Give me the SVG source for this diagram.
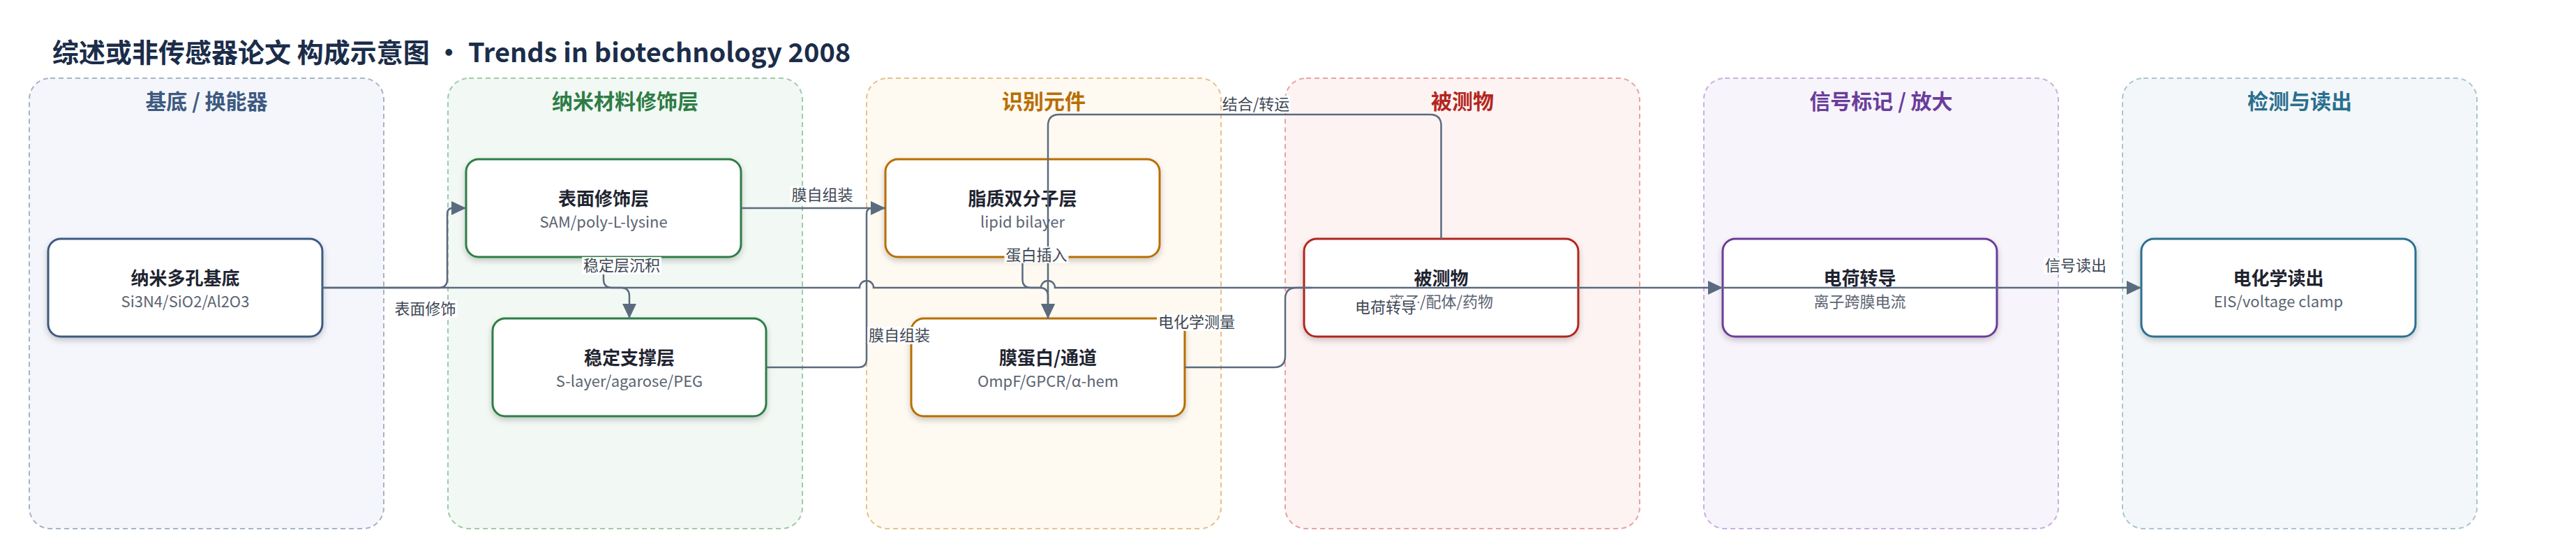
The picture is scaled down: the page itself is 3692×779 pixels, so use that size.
<svg xmlns="http://www.w3.org/2000/svg" width="3692" height="779" viewBox="0 0 3692 779">
<defs>
<filter id="sh" x="-10%" y="-20%" width="120%" height="150%">
<feDropShadow dx="0" dy="4" stdDeviation="4" flood-color="#000" flood-opacity="0.2"/>
</filter>
<marker id="ar" markerUnits="userSpaceOnUse" markerWidth="21" markerHeight="20" refX="21" refY="10" orient="auto">
<path d="M0,0 L21,10 L0,20 z" fill="#5b6b7f"/>
</marker>
<style>
text{font-family:"Noto Sans CJK SC","Noto Sans",sans-serif}
.grp{stroke-width:2;stroke-dasharray:7 5}
.gt{font-size:30px;font-weight:700;text-anchor:middle}
.node rect{fill:#fff;stroke-width:3;filter:url(#sh)}
.nt{font-size:26px;font-weight:700;fill:#1f2430;text-anchor:middle}
.ns{font-size:22px;fill:#5b6472;text-anchor:middle}
.edge{fill:none;stroke:#5b6b7f;stroke-width:2.5}
.lb rect{fill:#fff;fill-opacity:0.93}
.lb text{font-size:22px;fill:#3d4654;text-anchor:middle}
</style>
</defs>
<rect width="3692" height="779" fill="#fff"/>
<text x="75" y="89" font-size="38" font-weight="700" fill="#1b2d4a">综述或非传感器论文 构成示意图 • Trends in biotechnology 2008</text>

<g id="clusters">
<g id="c1"><rect class="grp" x="42" y="112" width="508" height="645" rx="30" fill="#f4f6fb" stroke="#a6b4c8"/><text class="gt" x="296" y="156" fill="#3d5a80">基底 / 换能器</text></g>
<g id="c2"><rect class="grp" x="642" y="112" width="508" height="645" rx="30" fill="#f2f8f4" stroke="#9fcaa9"/><text class="gt" x="896" y="156" fill="#2e7d46">纳米材料修饰层</text></g>
<g id="c3"><rect class="grp" x="1242" y="112" width="508" height="645" rx="30" fill="#fef9f1" stroke="#e6c28c"/><text class="gt" x="1496" y="156" fill="#b86e00">识别元件</text></g>
<g id="c4"><rect class="grp" x="1842" y="112" width="508" height="645" rx="30" fill="#fdf3f3" stroke="#e8a3a3"/><text class="gt" x="2096" y="156" fill="#b3261e">被测物</text></g>
<g id="c5"><rect class="grp" x="2442" y="112" width="508" height="645" rx="30" fill="#f7f4fb" stroke="#c8b0e0"/><text class="gt" x="2696" y="156" fill="#6a3d9a">信号标记 / 放大</text></g>
<g id="c6"><rect class="grp" x="3042" y="112" width="508" height="645" rx="30" fill="#f3f7f9" stroke="#a9c6d2"/><text class="gt" x="3296" y="156" fill="#2a6f8f">检测与读出</text></g>
</g>

<g id="nodes">
<g id="n-substrate" class="node"><rect x="69" y="342" width="393" height="140" rx="18" stroke="#3d5a80"/><text class="nt" x="265.5" y="408">纳米多孔基底</text><text class="ns" x="265.5" y="440">Si3N4/SiO2/Al2O3</text></g>
<g id="n-surface" class="node"><rect x="668" y="228" width="394" height="140" rx="18" stroke="#2e7d46"/><text class="nt" x="865" y="294">表面修饰层</text><text class="ns" x="865" y="326">SAM/poly-L-lysine</text></g>
<g id="n-support" class="node"><rect x="706" y="456" width="392" height="140" rx="18" stroke="#2e7d46"/><text class="nt" x="902" y="522">稳定支撑层</text><text class="ns" x="902" y="554">S-layer/agarose/PEG</text></g>
<g id="n-lipid" class="node"><rect x="1269" y="228" width="393" height="140" rx="18" stroke="#b86e00"/><text class="nt" x="1465.5" y="294">脂质双分子层</text><text class="ns" x="1465.5" y="326">lipid bilayer</text></g>
<g id="n-protein" class="node"><rect x="1306" y="456" width="392" height="140" rx="18" stroke="#b86e00"/><text class="nt" x="1502" y="522">膜蛋白/通道</text><text class="ns" x="1502" y="554">OmpF/GPCR/α-hem</text></g>
<g id="n-analyte" class="node"><rect x="1869" y="342" width="393" height="140" rx="18" stroke="#b3261e"/><text class="nt" x="2065.5" y="408">被测物</text><text class="ns" x="2065.5" y="440">离子/配体/药物</text></g>
<g id="n-charge" class="node"><rect x="2469" y="342" width="393" height="140" rx="18" stroke="#6a3d9a"/><text class="nt" x="2665.5" y="408">电荷转导</text><text class="ns" x="2665.5" y="440">离子跨膜电流</text></g>
<g id="n-readout" class="node"><rect x="3069" y="342" width="393" height="140" rx="18" stroke="#2a6f8f"/><text class="nt" x="3265.5" y="408">电化学读出</text><text class="ns" x="3265.5" y="440">EIS/voltage clamp</text></g>
</g>

<g id="connectors">
<path class="edge" d="M462,412 H1232 A10,10 0 0 1 1252,412 H1492 A10,10 0 0 1 1512,412 H2469" marker-end="url(#ar)"/>
<path class="edge" d="M2469,412 H3069" marker-end="url(#ar)"/>
<path class="edge" d="M462,412 H629 Q641,412 641,400 V306 Q641,298 649,298 H668" marker-end="url(#ar)"/>
<path class="edge" d="M865,368 V400 Q865,412 877,412 H890 Q902,412 902,424 V456" marker-end="url(#ar)"/>
<path class="edge" d="M1062,298 H1269" marker-end="url(#ar)"/>
<path class="edge" d="M1098,526 H1230 Q1242,526 1242,514 V306 Q1242,298 1250,298 H1269"/>
<path class="edge" d="M1465.5,368 V400 Q1465.5,412 1477.5,412 H1490 Q1502,412 1502,424 V456" marker-end="url(#ar)"/>
<path class="edge" d="M2065.5,342 V180 Q2065.5,164 2049.5,164 H1518 Q1502,164 1502,180 V456" marker-end="url(#ar)"/>
<path class="edge" d="M1698,526 H1826 Q1842,526 1842,510 V428 Q1842,412 1858,412 H1880"/>
</g>

<g id="labels">
<g class="lb"><rect x="563.5" y="430" width="92" height="25"/><text x="609.5" y="450">表面修饰</text></g>
<g class="lb"><rect x="834" y="368" width="114" height="25"/><text x="891" y="388">稳定层沉积</text></g>
<g class="lb"><rect x="1132.5" y="266.5" width="92" height="25"/><text x="1178.5" y="286.5">膜自组装</text></g>
<g class="lb"><rect x="1243" y="468" width="92" height="25"/><text x="1289" y="488">膜自组装</text></g>
<g class="lb"><rect x="1439.5" y="353" width="92" height="24"/><text x="1485.5" y="373">蛋白插入</text></g>
<g class="lb"><rect x="1751" y="137" width="98" height="25"/><text x="1800" y="157">结合/转运</text></g>
<g class="lb"><rect x="1658" y="449" width="114" height="25"/><text x="1715" y="469">电化学测量</text></g>
<g class="lb"><rect x="1940" y="428" width="92" height="25"/><text x="1986" y="448">电荷转导</text></g>
<g class="lb"><rect x="2929" y="368" width="92" height="25"/><text x="2975" y="388">信号读出</text></g>
</g>
</svg>
